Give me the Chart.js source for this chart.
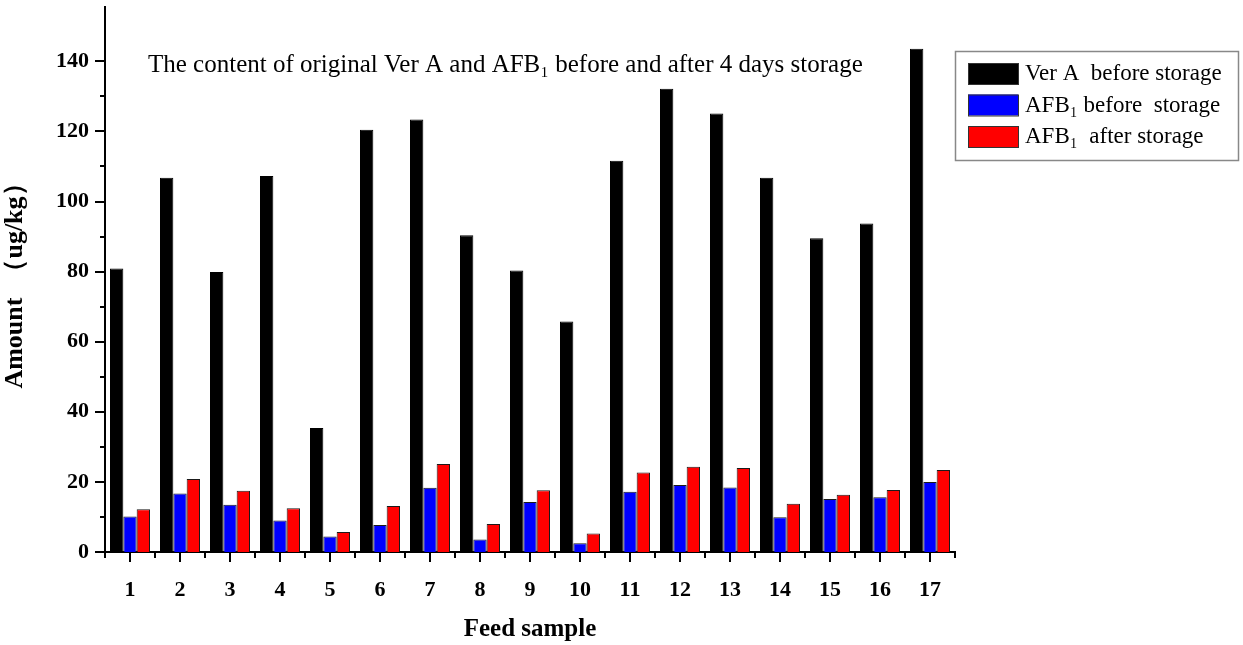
<!DOCTYPE html>
<html>
<head>
<meta charset="utf-8">
<script src="https://cdn.jsdelivr.net/npm/chart.js@4/dist/chart.umd.min.js"></script>
<style>
  html, body { margin: 0; padding: 0; background: #fff; }
  #wrap { width: 1243px; height: 645px; position: relative; }
</style>
</head>
<body>
<div id="wrap"><canvas id="bar-chart"></canvas></div>
<script>
// feed samples 1..17
var samples = ["1","2","3","4","5","6","7","8","9","10","11","12","13","14","15","16","17"];
var verABefore = [80.9, 106.8, 79.9, 107.3, 35.4, 120.5, 123.4, 90.4, 80.3, 65.8, 111.6, 132.2, 125.1, 106.8, 89.5, 93.7, 143.6];
var afbBefore = [10.1, 16.7, 13.5, 9.0, 4.4, 7.7, 18.3, 3.6, 14.3, 2.5, 17.2, 19.1, 18.4, 9.9, 15.1, 15.6, 20.0];
var afbAfter = [12.2, 20.8, 17.5, 12.5, 5.7, 13.1, 25.1, 8.0, 17.6, 5.3, 22.7, 24.3, 24.0, 13.8, 16.3, 17.7, 23.4];
var seriesNames = ["Ver A  before storage", "AFB\u2081 before  storage", "AFB\u2081  after storage"];
var yTickLabels = [0, 20, 40, 60, 80, 100, 120, 140];

var serif = '"Liberation Serif", "Times New Roman", serif';

// ticks, in-plot title and boxed legend
var decor = {
  id: 'decor',
  afterDraw: function (chart) {
    var ctx = chart.ctx;
    var x = chart.scales.x, y = chart.scales.y;
    var area = chart.chartArea;
    ctx.save();
    ctx.strokeStyle = '#000';
    ctx.lineWidth = 2;
    // y ticks (major every 20, minor every 10)
    y.ticks.forEach(function (t) {
      var py = Math.round(y.getPixelForValue(t.value));
      var len = yTickLabels.indexOf(t.value) >= 0 ? 10 : 5;
      ctx.beginPath();
      ctx.moveTo(area.left - len, py);
      ctx.lineTo(area.left, py);
      ctx.stroke();
    });
    // x ticks: major at sample centres, minor at group edges
    var n = samples.length;
    var w = (area.right - area.left) / n;
    for (var i = 0; i <= n; i++) {
      var bx = Math.round(area.left + i * w);
      ctx.beginPath();
      ctx.moveTo(bx, area.bottom);
      ctx.lineTo(bx, area.bottom + 6);
      ctx.stroke();
      if (i < n) {
        var cx = Math.round(x.getPixelForValue(i));
        ctx.beginPath();
        ctx.moveTo(cx, area.bottom);
        ctx.lineTo(cx, area.bottom + 10);
        ctx.stroke();
      }
    }
    // title inside plot
    ctx.fillStyle = '#000';
    ctx.font = '25px ' + serif;
    ctx.textBaseline = 'middle';
    ctx.textAlign = 'left';
    ctx.fillText('The content of original Ver A and AFB\u2081 before and after 4 days storage', 148, 65);
    // legend box
    var lx = 955, ly = 51, lw = 283, lh = 109;
    ctx.strokeStyle = '#888';
    ctx.lineWidth = 1.5;
    ctx.strokeRect(lx + 0.5, ly + 0.5, lw, lh);
    chart.data.datasets.forEach(function (ds, k) {
      var ry = 73 + k * 31.5;
      ctx.fillStyle = ds.backgroundColor;
      ctx.fillRect(968, ry - 10, 50, 21);
      ctx.strokeStyle = '#333';
      ctx.lineWidth = 1;
      ctx.strokeRect(968.5, ry - 9.5, 50, 21);
      ctx.fillStyle = '#000';
      ctx.font = '23px ' + serif;
      ctx.fillText(ds.label, 1025, ry + 1);
    });
    ctx.restore();
  }
};

new Chart(document.getElementById("bar-chart"), {
  type: 'bar',
  data: {
    labels: samples,
    datasets: [
      { label: seriesNames[0], data: verABefore, backgroundColor: '#000000', borderColor: '#000000', borderWidth: 1 },
      { label: seriesNames[1], data: afbBefore, backgroundColor: '#0000ff', borderColor: '#1a1a1a', borderWidth: 1 },
      { label: seriesNames[2], data: afbAfter, backgroundColor: '#ff0000', borderColor: '#1a1a1a', borderWidth: 1 }
    ]
  },
  plugins: [decor],
  options: {
    responsive: true,
    maintainAspectRatio: false,
    animation: false,
    layout: { padding: { top: 7, right: 288, left: 0, bottom: 0 } },
    datasets: { bar: { categoryPercentage: 0.8, barPercentage: 1.0 } },
    plugins: {
      legend: { display: false },
      title: { display: false },
      tooltip: { enabled: false }
    },
    scales: {
      x: {
        grid: { display: false, drawTicks: false },
        border: { display: true, color: '#000', width: 2 },
        ticks: { color: '#000', padding: 25, maxRotation: 0, font: { family: serif, size: 22, weight: 'bold' } },
        title: { display: true, text: 'Feed sample', color: '#000', padding: { top: 6, bottom: 0 }, font: { family: serif, size: 25, weight: 'bold' } },
        afterFit: function (s) { s.height = 93; s.paddingLeft = 0; s.paddingRight = 0; }
      },
      y: {
        min: 0,
        max: 155.5,
        grid: { display: false, drawTicks: false },
        border: { display: true, color: '#000', width: 2 },
        afterBuildTicks: function (s) { s.ticks = s.ticks.filter(function (t) { return t.value % 10 === 0; }); },
        ticks: {
          stepSize: 10,
          color: '#000',
          padding: 16,
          font: { family: serif, size: 22, weight: 'bold' },
          callback: function (v) { return yTickLabels.indexOf(v) >= 0 ? v : ''; }
        },
        title: { display: true, text: 'Amount  \uff08ug/kg\uff09', color: '#000', padding: { top: 0, bottom: 2 }, font: { family: serif, size: 26, weight: 'bold' } },
        afterFit: function (s) { s.width = 105; s.paddingTop = 0; s.paddingBottom = 0; }
      }
    }
  }
});
</script>
</body>
</html>
